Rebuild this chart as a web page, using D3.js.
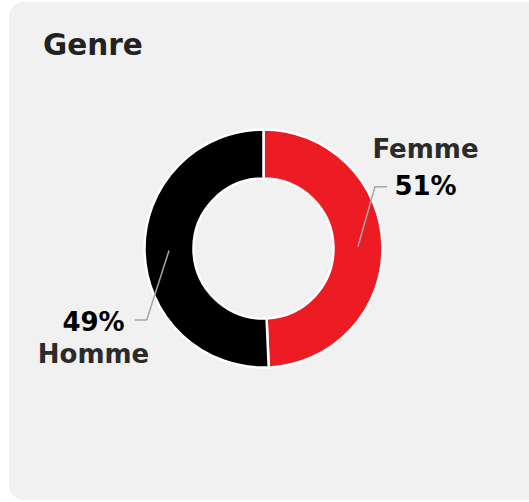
<!DOCTYPE html>
<html>
<head>
<meta charset="utf-8">
<script src="https://cdn.jsdelivr.net/npm/d3@7"></script>
<style>
  body { margin: 0; background: #fff; }
  text { font-family: "DejaVu Sans", sans-serif; font-weight: bold; }
</style>
</head>
<body>
<div id="chart"></div>
<script>
// Data
var categories = ["Femme", "Homme"];
var shares = [49.3, 50.7];          // arc sizes as drawn
var pctLabels = ["51%", "49%"];     // printed labels
var colors = ["#ed1c24", "#000000"];

var width = 529, height = 502;
var cx = 263.5, cy = 248.5;
var outerR = 119, innerR = 70;

var svg = d3.select("#chart").append("svg")
  .attr("width", width)
  .attr("height", height);

// card background
svg.append("rect")
  .attr("x", 9).attr("y", 2)
  .attr("width", 560).attr("height", 498)
  .attr("rx", 15)
  .attr("fill", "#f1f1f1");

svg.append("text")
  .attr("x", 43).attr("y", 55)
  .attr("fill", "#222")
  .style("font-size", "29.5px")
  .text("Genre");

var data = categories.map(function(c, i) {
  return {name: c, value: shares[i], label: pctLabels[i], color: colors[i]};
});

var pie = d3.pie().sort(null).value(function(d) { return d.value; });
var arc = d3.arc().innerRadius(innerR).outerRadius(outerR);
var arcs = pie(data);

var g = svg.append("g").attr("transform", "translate(" + cx + "," + cy + ")");

g.selectAll("path.slice")
  .data(arcs)
  .enter()
  .append("path")
    .attr("class", "slice")
    .attr("d", arc)
    .attr("fill", function(d) { return d.data.color; })
    .attr("stroke", "#fff")
    .attr("stroke-width", 2.5);

// label layout: elbow offset from centre, side, text centre x, baselines
var labelLayout = [
  {elbow: [111.5, -61.8], dir: 1, textX: 162, nameY: -90.3, pctY: -53.5},
  {elbow: [-116.8, 71.5], dir: -1, textX: -170, nameY: 114.8, pctY: 82.2}
];

arcs.forEach(function(d, i) {
  var L = labelLayout[i];
  var c = arc.centroid(d);
  var end = [L.elbow[0] + L.dir * 12, L.elbow[1]];
  g.append("polyline")
    .attr("points", [c, L.elbow, end].map(function(p) { return p.join(","); }).join(" "))
    .attr("fill", "none")
    .attr("stroke", "#a6a6a6")
    .attr("stroke-width", 1.5);

  g.append("text")
    .attr("x", L.textX).attr("y", L.nameY)
    .attr("text-anchor", "middle")
    .attr("fill", "#2b2b2b")
    .style("font-size", "26px")
    .text(d.data.name);

  g.append("text")
    .attr("x", L.textX).attr("y", L.pctY)
    .attr("text-anchor", "middle")
    .attr("fill", "#000")
    .style("font-size", "26px")
    .text(d.data.label);
});
</script>
</body>
</html>
